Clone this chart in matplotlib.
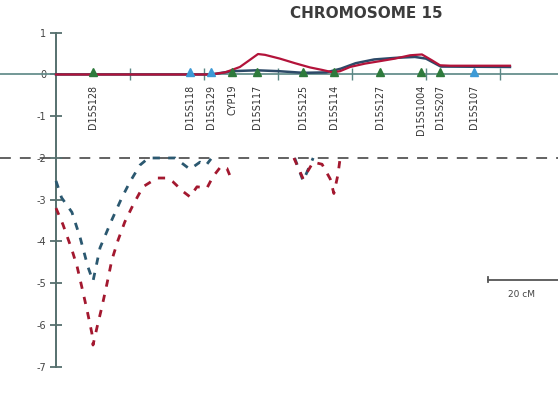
import numpy as np
import matplotlib
matplotlib.use('Agg')
from matplotlib import pyplot as plt

# marker map positions along chromosome 15 (cM)
markers = ['D15S128', 'D15S118', 'D15S129', 'CYP19', 'D15S117', 'D15S125',
           'D15S114', 'D15S127', 'D15S1004', 'D15S207', 'D15S107']
marker_cm = [10, 36.2, 41.9, 47.6, 54.3, 66.8, 75.1, 87.6, 98.6, 103.8, 113]
marker_kind = ['g', 'b', 'b', 'g', 'g', 'g', 'g', 'g', 'g', 'g', 'b']

# positive lod scores (solid lines)
red_pos_x = [0, 41.9, 45.7, 49.7, 52.4, 54.6, 56.5, 60.5, 64.6, 68.6, 71.9, 74.9,
             76.8, 79.5, 83.5, 87.6, 91.6, 95.7, 98.9, 101.6, 103.8, 106.5, 122.7]
red_pos_y = [0, 0, 0.05, 0.18, 0.35, 0.49, 0.47, 0.38, 0.27, 0.17, 0.11, 0.05,
             0.08, 0.18, 0.26, 0.32, 0.38, 0.46, 0.48, 0.34, 0.22, 0.21, 0.21]
blue_pos_x = [0, 41.9, 47.6, 54.3, 60, 66.8, 73, 77, 81, 86, 92, 97, 100, 104, 122.7]
blue_pos_y = [0, 0, 0.08, 0.1, 0.08, 0.04, 0.05, 0.14, 0.27, 0.36, 0.4, 0.42, 0.38, 0.19, 0.18]

# exclusion region lod scores (dashed lines)
blue_neg1_x = [0, 1.5, 4.3, 6.5, 8.6, 10, 11.9, 15, 17.8, 20, 22.7, 25,
               32.2, 36.2, 38.9, 40.5, 41.9]
blue_neg1_y = [-2.55, -2.95, -3.3, -3.9, -4.6, -4.95, -4.15, -3.5, -2.95, -2.57, -2.17, -2.0,
               -2.0, -2.27, -2.1, -2.18, -2.02]
blue_neg2_x = [64.5, 66.8, 69.5]
blue_neg2_y = [-2.0, -2.55, -2.0]

red_neg1_x = [0, 1.9, 4.3, 5.7, 7.0, 8.4, 9.7, 10.0, 11.1, 12.4, 13.8, 15.1, 16.8, 18.6,
              20.8, 23.5, 27.3, 30.0, 31.6, 34.3, 36.2, 38.1, 40.8, 42.4, 44.6, 46.2, 47.6]
red_neg1_y = [-3.2, -3.6, -4.2, -4.6, -5.1, -5.65, -6.2, -6.48, -6.05, -5.57, -5.0, -4.44,
              -3.96, -3.53, -3.13, -2.69, -2.48, -2.48, -2.57, -2.8, -2.93, -2.69, -2.72,
              -2.45, -2.2, -2.25, -2.55]
red_neg2_x = [64.3, 66.8, 69.5, 71.9, 74.1, 75.1, 76.2, 76.8]
red_neg2_y = [-2.0, -2.5, -2.1, -2.15, -2.5, -2.85, -2.4, -2.0]

y_ticks = [1, 0, -1, -2, -3, -4, -5, -6, -7]
x_ticks = [20, 40, 60, 80, 100, 120]

RED = '#b3133a'
DRED = '#a3182f'
BLUE = '#2d4a68'
DBLUE = '#2b5870'
GREEN = '#2e7a3c'
LBLUE = '#3d9ad6'

fig = plt.figure(figsize=(5.58, 3.94), dpi=100)
ax = fig.add_axes([0, 0, 1, 1])
ax.set_xlim(-15.14, 135.68)
ax.set_ylim(-7.653, 1.784)

for s in ['top', 'right']:
    ax.spines[s].set_visible(False)
ax.spines['left'].set_position(('data', 0))
ax.spines['left'].set_bounds(-7, 1)
ax.spines['left'].set_color('#56706e')
ax.spines['left'].set_linewidth(1.4)
ax.spines['bottom'].set_position(('data', 0))
ax.spines['bottom'].set_color('#5a8684')
ax.spines['bottom'].set_linewidth(1.2)

ax.set_yticks(y_ticks)
ax.set_yticklabels([str(t) for t in y_ticks], fontsize=7, color='#444444')
ax.set_xticks(x_ticks)
ax.set_xticklabels([])
ax.tick_params(axis='y', direction='inout', length=8, width=1.3, color='#56706e', pad=3)
ax.tick_params(axis='x', direction='inout', length=8, width=1, color='#5a8684')

# significance threshold
ax.axhline(-2, color='#555555', lw=1.3, dashes=(6, 5), zorder=1)

# solid positive curves
ax.plot(blue_pos_x, blue_pos_y, color=BLUE, lw=1.8, zorder=3)
ax.plot(red_pos_x, red_pos_y, color=RED, lw=1.6, zorder=4)

# dashed exclusion curves
dash = dict(lw=2.0, dashes=(2.6, 3.0), zorder=3)
ax.plot(blue_neg1_x, blue_neg1_y, color=DBLUE, **dash)
ax.plot(blue_neg2_x, blue_neg2_y, color=DBLUE, **dash)
ax.plot(red_neg1_x, red_neg1_y, color=DRED, **dash)
ax.plot(red_neg2_x, red_neg2_y, color=DRED, **dash)

# marker triangles and names
for name, cm, kind in zip(markers, marker_cm, marker_kind):
    c = GREEN if kind == 'g' else LBLUE
    ax.plot(cm, 0.05, marker='^', ms=6, color=c, mec=c, zorder=5, clip_on=False)
    ax.text(cm, -0.24, name, rotation=90, ha='center', va='top',
            fontsize=6.9, color='#333333')

# 20 cM scale bar
ax.plot([116.8, 136.8], [-4.92, -4.92], color='#555555', lw=1.3, clip_on=True)
ax.plot([116.8, 116.8], [-4.86, -4.98], color='#555555', lw=1.3)
ax.text(125.9, -5.28, '20 cM', ha='center', va='center', fontsize=6.5, color='#444444')

ax.text(84, 1.45, 'CHROMOSOME 15', ha='center', va='center', fontsize=11,
        fontweight='bold', color='#3c3c3c')

fig.savefig('out.png', dpi=100)
